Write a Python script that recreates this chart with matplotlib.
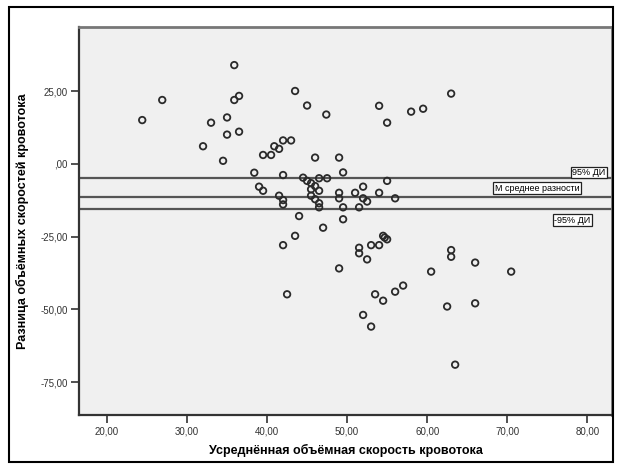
import matplotlib
matplotlib.use("Agg")
import matplotlib.pyplot as plt
from matplotlib.patches import Rectangle

plt.rcParams['font.family'] = ['Liberation Sans', 'DejaVu Sans']

# усреднённая скорость / разница скоростей
mean_flow = [35.9, 26.9, 24.4, 43.5, 45.0, 47.4, 35.9, 36.5, 33.0, 35.0,
             35.0, 36.5, 32.0, 34.5, 39.5, 40.5, 40.9, 41.5, 42.0, 43.0,
             46.0, 38.4, 42.0, 44.5, 46.5, 47.5, 54.0, 55.0, 58.0, 59.5,
             63.0, 49.0, 49.5, 55.0, 45.0, 45.5, 46.0, 45.5, 46.5, 49.0,
             49.0, 49.5, 49.5, 39.0, 39.5, 41.5, 42.0, 42.0, 45.5, 46.0,
             46.5, 46.5, 44.0, 47.0, 43.5, 42.0, 49.0, 51.0, 52.0, 52.0,
             52.5, 54.0, 51.5, 56.0, 54.5, 54.7, 55.0, 54.0, 53.0, 51.5,
             51.5, 52.5, 60.5, 63.0, 63.0, 66.0, 42.5, 70.5, 53.5, 54.5,
             56.0, 57.0, 62.5, 66.0, 52.0, 53.0, 63.5]
diff_flow = [34.0, 22.0, 15.1, 25.1, 20.1, 17.0, 22.0, 23.4, 14.2, 16.0,
             10.1, 11.1, 6.1, 1.1, 3.1, 3.1, 6.1, 5.2, 8.1, 8.1,
             2.2, -3.0, -3.8, -4.7, -4.9, -4.9, 20.0, 14.2, 18.0, 19.0,
             24.2, 2.2, -2.9, -5.8, -5.8, -6.6, -7.6, -8.7, -9.2, -9.9,
             -11.8, -14.9, -19.0, -7.8, -9.2, -10.9, -12.4, -13.9, -10.9, -12.1,
             -13.5, -14.9, -17.9, -21.9, -24.7, -27.9, -35.9, -9.9, -7.8, -11.8,
             -12.9, -9.9, -14.9, -11.8, -24.7, -25.3, -25.9, -27.9, -27.9, -28.8,
             -30.7, -32.8, -37.0, -29.6, -31.9, -33.9, -44.8, -37.0, -44.8, -47.0,
             -43.9, -41.8, -49.0, -47.9, -51.9, -55.9, -69.0]

ci_upper = -4.9
mean_diff = -11.4
ci_lower = -15.6

x_ticks = [20, 30, 40, 50, 60, 70, 80]
x_labels = ['20,00', '30,00', '40,00', '50,00', '60,00', '70,00', '80,00']
y_ticks = [25, 0, -25, -50, -75]
y_labels = ['25,00', ',00', '-25,00', '-50,00', '-75,00']

fig = plt.figure(figsize=(6.21, 4.69), dpi=100)
ax = fig.add_axes([79 / 621, 54 / 469, 533 / 621, 388 / 469])
ax.set_facecolor('#f0f0f0')

for val in [ci_upper, mean_diff, ci_lower]:
    ax.axhline(val, color='#555555', lw=1.6, zorder=2)

ax.scatter(mean_flow, diff_flow, s=22, facecolors='none', edgecolors='#2a2a2a',
           linewidths=1.3, zorder=3)

box = dict(boxstyle='square,pad=0.15', fc='white', ec='#222222', lw=0.9)
ax.text(82.25, ci_upper + 0.4, '95% ДИ', ha='right', va='bottom', fontsize=6.5,
        bbox=box, zorder=4)
ax.text(79.0, -8.3, 'M среднее разности', ha='right', va='center', fontsize=6.5,
        bbox=box, zorder=4)
ax.text(80.4, -19.3, '-95% ДИ', ha='right', va='center', fontsize=6.5,
        bbox=box, zorder=4)

ax.set_xlim(16.5, 83.1)
ax.set_ylim(-86.3, 47.1)
ax.set_xticks(x_ticks)
ax.set_xticklabels(x_labels)
ax.set_yticks(y_ticks)
ax.set_yticklabels(y_labels)
ax.tick_params(direction='out', length=6, width=1.2, pad=2, labelsize=7,
               colors='#333333', top=False, right=False)

for side in ['top', 'right']:
    ax.spines[side].set_color('#777777')
    ax.spines[side].set_linewidth(2)
for side in ['left', 'bottom']:
    ax.spines[side].set_color('#333333')
    ax.spines[side].set_linewidth(1.6)

ax.set_xlabel('Усреднённая объёмная скорость кровотока', fontsize=9,
              fontweight='bold', labelpad=6)
ax.set_ylabel('Разница объёмных скоростей кровотока', fontsize=9,
              fontweight='bold', labelpad=8)

# outer frame round the whole picture
fig.patches.append(Rectangle((9 / 621, 7 / 469), 604 / 621, 455 / 469,
                             transform=fig.transFigure, fill=False,
                             ec='black', lw=1.5))

fig.savefig('out.png', dpi=100)
